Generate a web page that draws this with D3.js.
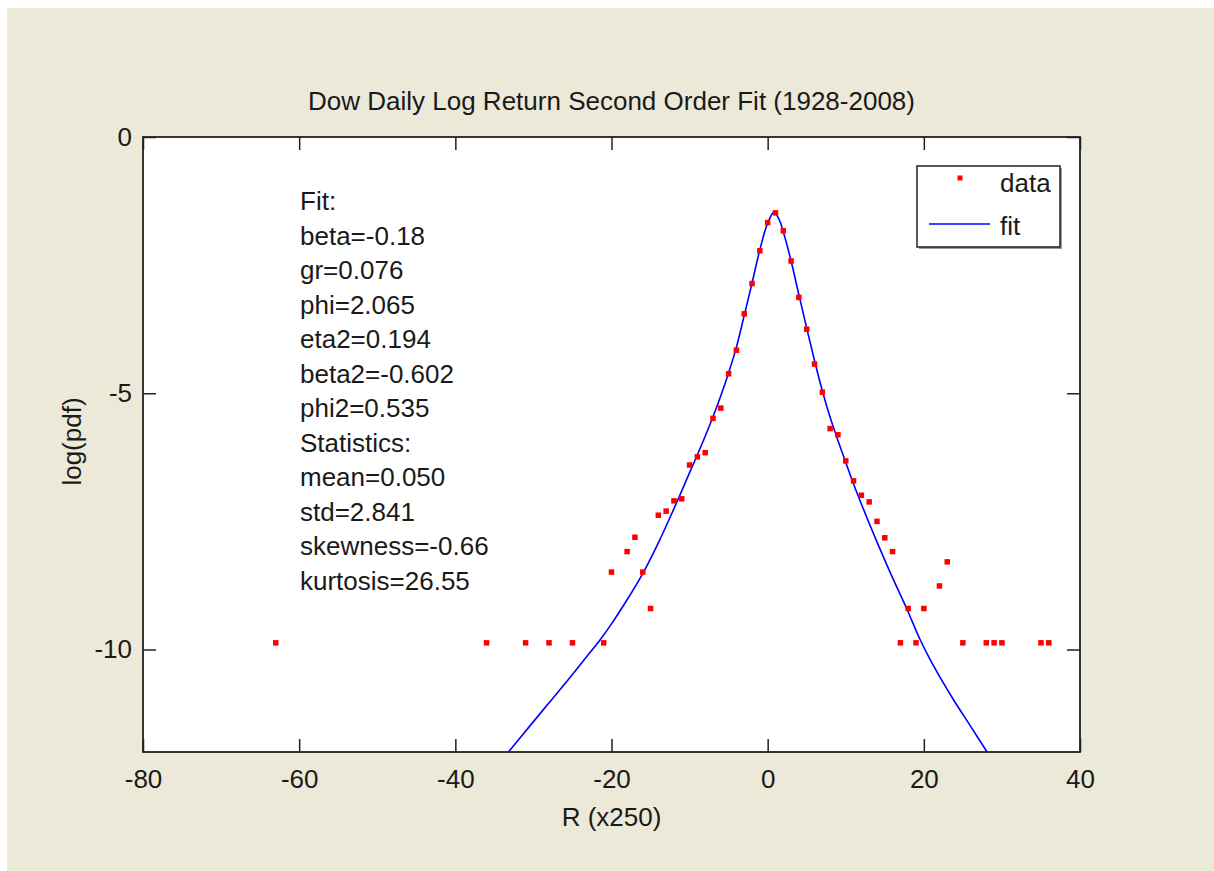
<!DOCTYPE html>
<html>
<head>
<meta charset="utf-8">
<script src="https://cdn.jsdelivr.net/npm/d3@7"></script>
<style>
  body { margin: 0; background: #ffffff; }
  text { font-family: "Liberation Sans", Arial, sans-serif; fill: #1a1a1a; }
</style>
</head>
<body>
<div id="chart"></div>
<script>
// Step 1: data
let dataR = [-63, -36, -31, -28, -25, -21, -20, -18, -17, -16, -15, -14, -13, -12, -11, -10, -9, -8, -7, -6, -5, -4, -3, -2, -1, 0,
    1, 2, 3, 4, 5, 6, 7, 8, 9, 10, 11, 12, 13, 14, 15, 16, 17, 18, 19, 20, 22, 23, 25, 28, 29, 30, 35, 36]
let dataLogPdf = [-9.87, -9.87, -9.87, -9.87, -9.87, -9.87, -8.49, -8.09, -7.81, -8.49, -9.20, -7.38, -7.30, -7.10, -7.06, -6.40, -6.24, -6.16, -5.49, -5.29, -4.62, -4.16, -3.45, -2.86, -2.22, -1.67,
    -1.48, -1.83, -2.42, -3.13, -3.75, -4.43, -4.98, -5.69, -5.81, -6.32, -6.71, -6.99, -7.12, -7.50, -7.82, -8.09, -9.87, -9.20, -9.87, -9.20, -8.76, -8.29, -9.87, -9.87, -9.87, -9.87, -9.87, -9.87]

let fitR = [-33.2, -30.5, -28, -25.5, -23.5, -21.4, -20, -18, -16, -14, -12, -10, -9, -8, -7, -6, -5, -4, -3, -2, -1, 0, 0.8,
    1.5, 2, 3, 4, 5, 6, 7, 8, 9, 10, 11, 12, 13.5, 15.7, 17.8, 19.5, 21, 23.8, 26, 28.1]
let fitLogPdf = [-12, -11.5, -11.04, -10.58, -10.2, -9.8, -9.5, -9.03, -8.52, -7.92, -7.25, -6.55, -6.2, -5.84, -5.46, -5.05, -4.6, -4.1, -3.48, -2.85, -2.2, -1.68, -1.47,
    -1.62, -1.85, -2.42, -3.08, -3.73, -4.36, -4.95, -5.47, -5.92, -6.35, -6.77, -7.16, -7.72, -8.5, -9.2, -9.8, -10.25, -10.98, -11.5, -12]

let xTicks = [-80, -60, -40, -20, 0, 20, 40]
let yTicks = [-10, -5, 0]
let legendLabels = ["data", "fit"]
let noteLines = ["Fit:", "beta=-0.18", "gr=0.076", "phi=2.065", "eta2=0.194", "beta2=-0.602", "phi2=0.535",
    "Statistics:", "mean=0.050", "std=2.841", "skewness=-0.66", "kurtosis=26.55"]

// Step 2: set up the figure
let svgWidth = 1214
let svgHeight = 871
let margin = { top: 137, right: 134, bottom: 119, left: 143 }
let width = svgWidth - margin.left - margin.right
let height = svgHeight - margin.top - margin.bottom

let svg = d3.select("#chart")
    .append("svg")
    .attr("width", svgWidth)
    .attr("height", svgHeight)

svg.append("rect")
    .attr("x", 7)
    .attr("y", 8)
    .attr("width", svgWidth - 7)
    .attr("height", svgHeight - 8)
    .attr("fill", "#ece9d8")

let chartGroup = svg.append("g")
    .attr("transform", `translate(${margin.left}, ${margin.top})`)

chartGroup.append("rect")
    .attr("width", width)
    .attr("height", height)
    .attr("fill", "#ffffff")

chartGroup.append("clipPath")
    .attr("id", "plotClip")
    .append("rect")
    .attr("width", width)
    .attr("height", height)

// Step 3: scales
let xScale = d3.scaleLinear().domain([-80, 40]).range([0, width])
let yScale = d3.scaleLinear().domain([-12, 0]).range([height, 0])

// Step 4: axes (ticks point inward, box on all sides), plain hyphen minus like matlab
let tickLen = 13
let plain = d => String(d)
let bottomAxis = d3.axisBottom(xScale).tickValues(xTicks).tickFormat(plain).tickSizeInner(-tickLen).tickSizeOuter(0).tickPadding(18)
let leftAxis = d3.axisLeft(yScale).tickValues(yTicks).tickFormat(plain).tickSizeInner(-tickLen).tickSizeOuter(0).tickPadding(11)
let topAxis = d3.axisTop(xScale).tickValues(xTicks).tickSizeInner(-tickLen).tickSizeOuter(0).tickFormat("")
let rightAxis = d3.axisRight(yScale).tickValues(yTicks).tickSizeInner(-tickLen).tickSizeOuter(0).tickFormat("")

function styleAxis(g) {
    g.select(".domain").remove()
    g.selectAll(".tick line").attr("stroke", "#222").attr("stroke-width", 1.5)
    g.selectAll(".tick text")
        .style("font-family", "'Liberation Sans', Arial, sans-serif")
        .style("font-size", "26px")
        .attr("fill", "#1a1a1a")
}

chartGroup.append("g").attr("transform", `translate(0, ${height})`).call(bottomAxis).call(styleAxis)
chartGroup.append("g").call(leftAxis).call(styleAxis)
chartGroup.append("g").call(topAxis).call(styleAxis)
chartGroup.append("g").attr("transform", `translate(${width}, 0)`).call(rightAxis).call(styleAxis)

// Step 5: fit line and data points
let line = d3.line()
    .x((d, i) => xScale(fitR[i]))
    .y((d, i) => yScale(fitLogPdf[i]))
    .curve(d3.curveCatmullRom.alpha(0.5))

chartGroup.append("path")
    .datum(fitR)
    .attr("clip-path", "url(#plotClip)")
    .attr("d", line)
    .attr("fill", "none")
    .attr("stroke", "#0000ff")
    .attr("stroke-width", 1.6)

let ms = 5.5
chartGroup.append("g")
    .attr("clip-path", "url(#plotClip)")
    .selectAll("rect")
    .data(dataR)
    .enter()
    .append("rect")
    .attr("x", (d, i) => xScale(d) - ms / 2)
    .attr("y", (d, i) => yScale(dataLogPdf[i]) - ms / 2)
    .attr("width", ms)
    .attr("height", ms)
    .attr("fill", "#ff0000")

// axes box
chartGroup.append("rect")
    .attr("width", width)
    .attr("height", height)
    .attr("fill", "none")
    .attr("stroke", "#222")
    .attr("stroke-width", 1.8)

// Step 6: text annotations
chartGroup.append("g")
    .selectAll("text")
    .data(noteLines)
    .enter()
    .append("text")
    .attr("x", 300 - margin.left)
    .attr("y", (d, i) => 210 - margin.top + i * 34.5)
    .style("font-size", "26px")
    .text(d => d)

// Step 7: legend
let legend = svg.append("g").attr("transform", "translate(917, 166)")
legend.append("rect")
    .attr("x", 2).attr("y", 2)
    .attr("width", 143).attr("height", 81)
    .attr("fill", "#9a9a9a")
legend.append("rect")
    .attr("width", 143).attr("height", 81)
    .attr("fill", "#ffffff")
    .attr("stroke", "#222")
    .attr("stroke-width", 1.5)

legend.append("rect")
    .attr("x", 43 - 2.5).attr("y", 12 - 2.5)
    .attr("width", 5).attr("height", 5)
    .attr("fill", "#ff0000")
legend.append("line")
    .attr("x1", 12).attr("x2", 73)
    .attr("y1", 58).attr("y2", 58)
    .attr("stroke", "#0000ff")
    .attr("stroke-width", 1.6)

legend.selectAll(".lab")
    .data(legendLabels)
    .enter()
    .append("text")
    .attr("class", "lab")
    .attr("x", 83)
    .attr("y", (d, i) => 26 + i * 43)
    .style("font-size", "26px")
    .text(d => d)

// Step 8: title and axis labels
svg.append("text")
    .attr("x", margin.left + width / 2)
    .attr("y", 110)
    .style("text-anchor", "middle")
    .style("font-size", "26px")
    .text("Dow Daily Log Return Second Order Fit (1928-2008)")

svg.append("text")
    .attr("x", margin.left + width / 2)
    .attr("y", 826)
    .style("text-anchor", "middle")
    .style("font-size", "26px")
    .text("R (x250)")

svg.append("text")
    .attr("transform", `translate(81, ${margin.top + height / 2 - 3}) rotate(-90)`)
    .style("text-anchor", "middle")
    .style("font-size", "26px")
    .text("log(pdf)")
</script>
</body>
</html>
